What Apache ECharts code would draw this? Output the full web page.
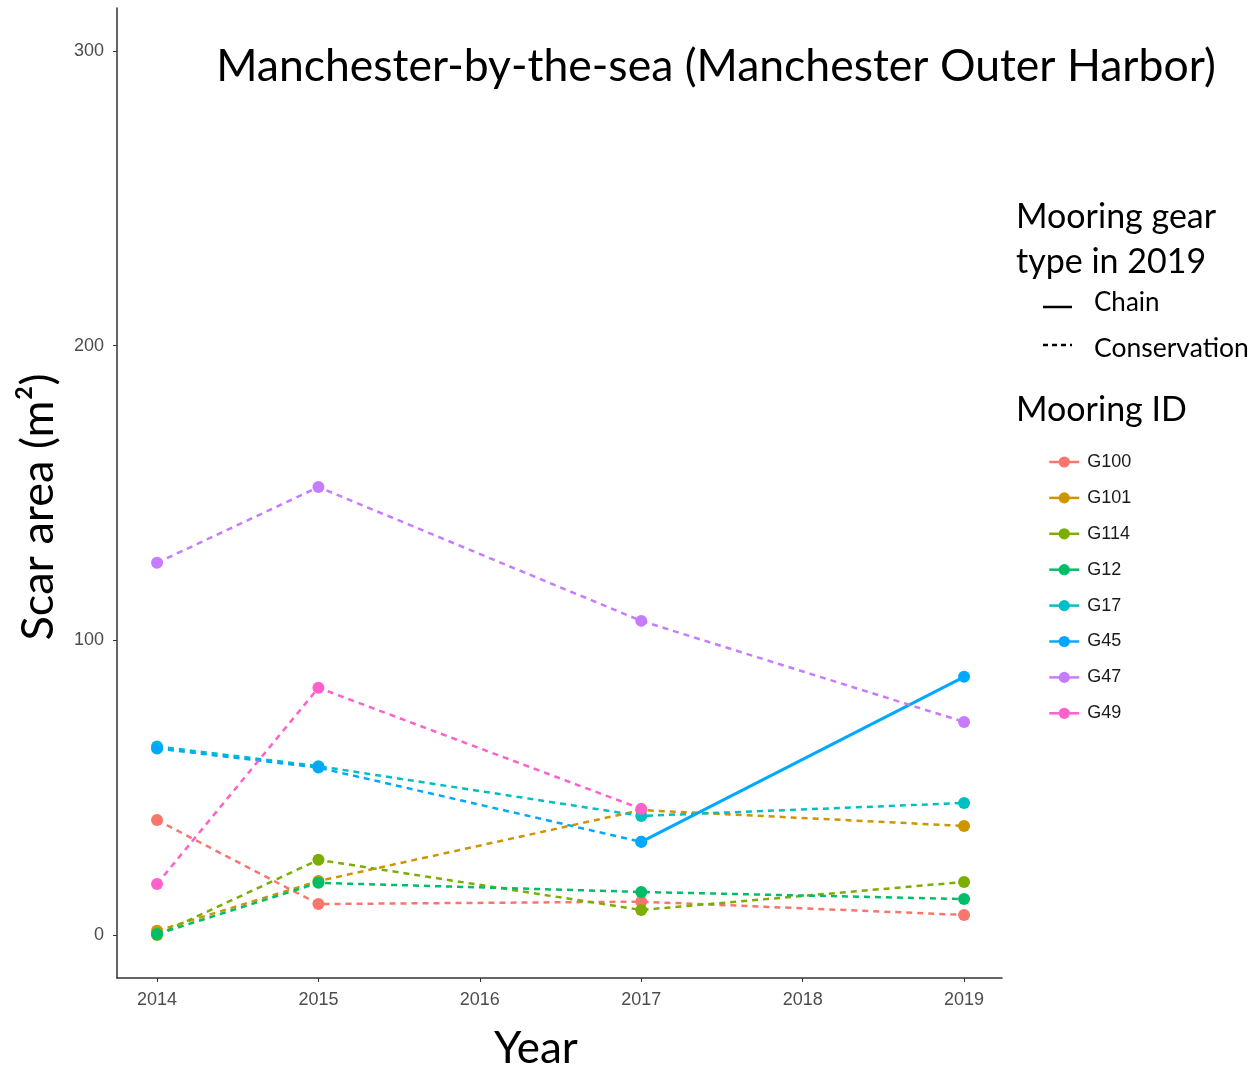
<!DOCTYPE html>
<html>
<head>
<meta charset="utf-8">
<script src="https://cdn.jsdelivr.net/npm/echarts@6/dist/echarts.min.js"></script>
<style>
  html, body { margin: 0; padding: 0; background: #fff; }
  #chart { width: 1256px; height: 1071px; }
</style>
</head>
<body>
<div id="chart"></div>
<script>
// survey years and scar areas (m2), null = not surveyed
const years = [2014, 2015, 2017, 2019];
const moorings = ['G100', 'G101', 'G114', 'G12', 'G17', 'G45', 'G47', 'G49'];
const g100 = [39, 10.5, 11.3, 6.8];
const g101 = [1.4, 18.3, 42.4, 37];
const g114 = [0, 25.5, 8.5, 18];
const g12 = [0.3, 17.7, 14.6, 12.2];
const g17 = [64, 57.3, 40.4, 44.8];
const g45 = [63.3, 56.8, 31.6, 87.6];
const g47 = [126.3, 152, 106.6, 72.3];
const g49 = [17.3, 83.9, 42.8, null];
// first year of a chain (solid) segment per mooring, null = all conservation
const chainFrom = [null, null, null, null, null, 2017, null, null];
const xTicks = [2014, 2015, 2016, 2017, 2018, 2019];
const yTicks = [0, 100, 200, 300];

const values = [g100, g101, g114, g12, g17, g45, g47, g49];
const colors = ['#F8766D', '#CD9600', '#7CAE00', '#00BE67', '#00BFC4', '#00A9FF', '#C77CFF', '#FF61CC'];

const chart = echarts.init(document.getElementById('chart'));

const series = [];
moorings.forEach((name, i) => {
  const pts = years.map((y, j) => [y, values[i][j]]).filter(p => p[1] !== null);
  const cut = chainFrom[i];
  const dashed = cut === null ? pts : pts.filter(p => p[0] <= cut);
  series.push({
    name: name,
    type: 'line',
    data: dashed,
    symbol: 'circle',
    symbolSize: 12,
    color: colors[i],
    lineStyle: { width: 2.5, type: [6, 5] },
    z: 2 + i
  });
  if (cut !== null) {
    series.push({
      name: name + ' chain',
      type: 'line',
      data: pts.filter(p => p[0] >= cut),
      symbol: 'circle',
      symbolSize: 12,
      color: colors[i],
      lineStyle: { width: 3, type: 'solid' },
      z: 2 + i
    });
  }
});

const option = {
  animation: false,
  backgroundColor: '#fff',
  grid: { left: 117, right: 254, top: 8, bottom: 93, outerBoundsMode: 'none' },
  xAxis: {
    type: 'value',
    min: 2013.752,
    max: 2019.235,
    axisLine: { onZero: false, lineStyle: { color: '#333', width: 1.5 } },
    axisTick: { show: true, length: 4, lineStyle: { color: '#333' }, customValues: xTicks },
    axisLabel: {
      customValues: xTicks, formatter: v => String(v),
      color: '#4d4d4d', fontFamily: 'Liberation Sans', fontSize: 18, margin: 13
    },
    splitLine: { show: false }
  },
  yAxis: {
    type: 'value',
    min: -14.6,
    max: 314.6,
    axisLine: { show: true, onZero: false, lineStyle: { color: '#333', width: 1.5 } },
    axisTick: { show: true, length: 4, lineStyle: { color: '#333' }, customValues: yTicks },
    axisLabel: { customValues: yTicks, color: '#4d4d4d', fontFamily: 'Liberation Sans', fontSize: 18, margin: 13 },
    splitLine: { show: false }
  },
  legend: {
    data: moorings,
    orient: 'vertical',
    left: 1043,
    top: 448,
    itemWidth: 30,
    itemHeight: 14,
    itemGap: 17.9,
    lineStyle: { type: 'solid', width: 2.5 },
    itemStyle: { borderWidth: 0 },
    textStyle: { fontFamily: 'Liberation Sans', fontSize: 18, color: '#1a1a1a', padding: [0, 0, 0, 3] }
  },
  graphic: [
    {
      type: 'text', x: 716, y: 67,
      style: {
        text: 'Manchester-by-the-sea (Manchester Outer Harbor)', font: '44.5px Lato', fill: '#000',
        align: 'center', verticalAlign: 'middle'
      }
    },
    {
      type: 'text', x: 38, y: 507, rotation: Math.PI / 2,
      style: { text: 'Scar area (m²)', font: '45px Lato', fill: '#000', align: 'center', verticalAlign: 'middle' }
    },
    {
      type: 'text', x: 536, y: 1049,
      style: { text: 'Year', font: '44px Lato', fill: '#000', align: 'center', verticalAlign: 'middle' }
    },
    {
      type: 'text', x: 1016, y: 217,
      style: { text: 'Mooring gear', font: '34px Lato', fill: '#000', verticalAlign: 'middle' }
    },
    {
      type: 'text', x: 1016, y: 262,
      style: { text: 'type in 2019', font: '34px Lato', fill: '#000', verticalAlign: 'middle' }
    },
    {
      type: 'line', shape: { x1: 1043, y1: 307, x2: 1072, y2: 307 },
      style: { stroke: '#000', lineWidth: 2.5 }
    },
    {
      type: 'text', x: 1094, y: 303,
      style: { text: 'Chain', font: '26px Lato', fill: '#000', verticalAlign: 'middle' }
    },
    {
      type: 'line', shape: { x1: 1043, y1: 345, x2: 1072, y2: 345 },
      style: { stroke: '#000', lineWidth: 2.5, lineDash: [5, 4] }
    },
    {
      type: 'text', x: 1094, y: 348,
      style: { text: 'Conservation', font: '26.5px Lato', fill: '#000', verticalAlign: 'middle' }
    },
    {
      type: 'text', x: 1016, y: 410,
      style: { text: 'Mooring ID', font: '34px Lato', fill: '#000', verticalAlign: 'middle' }
    }
  ],
  series: series
};

chart.setOption(option);
</script>
</body>
</html>
